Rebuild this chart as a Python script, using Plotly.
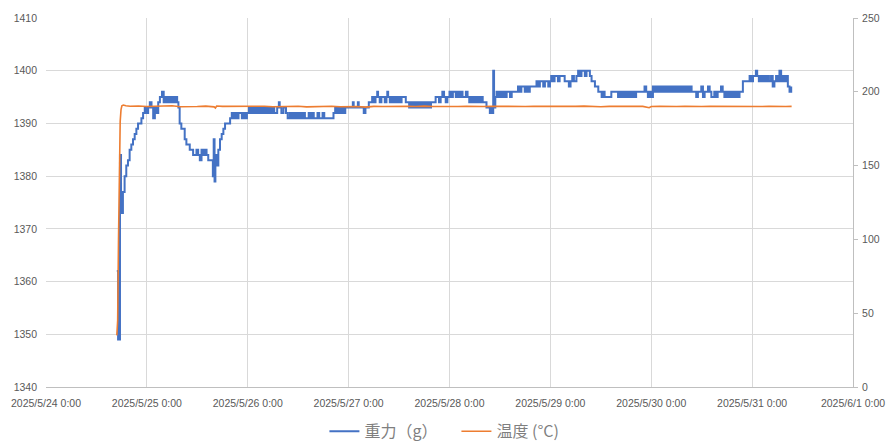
import pandas as pd
import plotly.graph_objects as go

# Weight (g): hours since 2025/5/24 0:00 and readings
weight_hours = [
    16.85, 17.15, 17.6, 17.85, 18.3, 18.7, 19.1, 19.5, 19.9, 20.3, 20.7, 21.1, 21.5, 21.9, 22.3, 22.7,
    23.1, 23.5, 23.9, 24.3, 24.7, 25.1, 25.5, 25.9, 26.3, 26.7, 27.1, 27.6, 28.0, 28.4, 28.8, 29.2,
    29.6, 30.0, 30.4, 30.8, 31.2, 31.5, 31.8, 32.2, 32.6, 33.0, 33.4, 33.8, 34.2, 34.6, 35.0, 35.4,
    35.8, 36.2, 36.6, 37.0, 37.4, 37.8, 38.2, 38.6, 39.0, 39.4, 39.7, 39.9, 40.1, 40.3, 40.6, 41.0,
    41.4, 41.8, 42.2, 42.6, 43.0, 43.8,
    44.2, 44.6, 45.0, 45.4, 45.8, 46.2, 46.6, 47.0, 47.4, 47.8,
    48.3, 48.7, 49.1, 49.5, 49.9, 50.3, 50.7, 51.1, 51.5, 51.9, 52.3, 52.7, 53.1, 53.5, 53.9, 54.3,
    55.0, 55.4, 55.6, 56.0, 56.5, 57.1,
    57.5, 58.0, 58.4, 58.8, 59.2, 59.6, 60.0, 60.4, 60.8, 61.2, 61.6, 62.0, 62.5, 62.9, 63.3, 63.7,
    64.1, 64.6, 65.0, 65.4, 65.8, 66.2, 66.6, 67.0, 67.4,
    68.4, 68.8, 69.2, 69.6, 70.0, 70.4, 70.8, 71.2, 71.6,
    72.0, 72.6, 73.0, 73.2, 73.8, 74.2, 74.4, 75.0, 75.6, 76.0, 76.4, 76.8, 77.2, 77.6,
    78.0, 78.4, 78.8, 79.0, 79.4, 79.8, 80.2, 80.6, 81.0, 81.2, 81.4, 81.8, 82.2, 82.6, 83.0, 83.4,
    83.8, 84.2, 84.6, 85.0, 85.6,
    86.0, 86.4, 86.8, 87.2, 87.6, 88.0, 88.4, 88.8, 89.2, 89.6, 90.0, 90.4, 90.8, 91.2, 91.6, 92.0, 92.7,
    93.1, 93.5, 93.9, 94.3, 94.7, 95.1, 95.5, 96.0, 96.4, 96.8, 97.1, 97.5, 97.9, 98.3, 98.7, 99.1,
    99.5, 99.9, 100.3, 100.7, 101.1, 101.5, 101.9, 102.3, 102.7, 103.1, 103.5, 103.9, 104.3, 104.8,
    105.3, 105.6, 106.0, 106.2, 106.4, 106.6, 106.9,
    107.2, 107.6, 108.0, 108.4, 108.8, 109.2, 109.6, 110.0, 110.4, 110.8, 111.2, 111.6, 112.3, 112.7,
    113.1, 113.5, 113.9, 114.3, 114.7, 115.1, 115.5, 115.9, 116.7, 117.1, 117.5, 117.9, 118.3, 118.7,
    119.1, 119.5, 119.9,
    120.2, 120.6, 121.0, 121.4, 121.8, 122.2, 122.6, 123.0, 123.4, 124.0, 124.4, 124.8, 125.2, 125.6,
    126.2, 126.6, 127.0, 127.4, 127.8, 128.2, 128.6, 129.0, 129.4, 129.8, 130.2, 130.6, 131.0, 131.4, 131.8,
    132.2, 132.6, 132.9, 133.3, 133.7, 134.1, 134.5, 134.9, 135.3, 135.7, 136.1, 136.5, 136.9, 137.3,
    137.7, 138.1, 138.5, 138.9, 139.3, 139.7, 140.1, 140.4, 140.8, 141.2, 141.6, 142.0, 142.4, 142.8,
    143.2, 143.6, 144.0, 144.4,
    144.8, 145.2, 145.6, 146.0, 146.4, 146.8, 147.2, 147.6, 148.0, 148.4, 148.8, 149.2, 149.6, 150.0,
    150.4, 150.8, 151.2, 151.6, 152.0, 152.4, 152.8, 153.2, 153.6, 154.0, 154.7,
    155.1, 155.5, 155.9, 156.3, 156.7, 157.1, 157.5, 157.9, 158.3, 158.6, 159.0, 159.4, 159.8, 160.2,
    160.6, 161.0, 161.4, 161.8, 162.2, 162.6, 163.0, 163.4, 163.8, 164.2, 164.6, 165.0, 165.4, 165.8,
    166.2, 166.6, 167.0, 167.4, 167.8, 168.2, 168.5, 168.9, 169.2, 169.6, 170.0, 170.4, 170.8, 171.2,
    171.6, 172.0, 172.5, 172.9, 173.3, 173.7, 174.1, 174.5, 174.9, 175.3, 175.7, 176.1, 176.5, 176.9, 177.3,
]
weight_g = [
    1362, 1349, 1384, 1373, 1377, 1380, 1382, 1383, 1385, 1386, 1387, 1388, 1389, 1390, 1390, 1391,
    1392, 1393, 1392, 1393, 1394, 1393, 1391, 1393, 1392, 1394, 1395, 1396, 1394, 1395, 1394, 1395,
    1394, 1395, 1394, 1395, 1394, 1393, 1390, 1389, 1389, 1387, 1386, 1386, 1385, 1385, 1384, 1384,
    1385, 1384, 1383, 1385, 1384, 1385, 1384, 1383, 1383, 1383, 1380, 1387, 1379, 1384, 1382, 1385,
    1387, 1388, 1389, 1390, 1390, 1391,
    1392, 1391, 1392, 1391, 1392, 1392, 1391, 1392, 1391, 1392,
    1393, 1392, 1393, 1392, 1393, 1392, 1393, 1392, 1393, 1392, 1393, 1392, 1393, 1392, 1393, 1392,
    1393, 1394, 1393, 1392, 1393, 1392,
    1391, 1392, 1391, 1392, 1391, 1392, 1391, 1392, 1391, 1392, 1391, 1391, 1392, 1391, 1392, 1391,
    1391, 1392, 1391, 1391, 1392, 1391, 1391, 1391, 1391,
    1392, 1393, 1392, 1393, 1392, 1393, 1392, 1393, 1393,
    1393, 1393, 1394, 1393, 1393, 1394, 1393, 1393, 1392, 1393, 1393, 1394, 1394, 1395,
    1394, 1395, 1396, 1395, 1394, 1395, 1395, 1394, 1395, 1396, 1395, 1394, 1395, 1394, 1395, 1394,
    1395, 1394, 1395, 1395, 1394,
    1394, 1393, 1394, 1393, 1394, 1393, 1394, 1393, 1394, 1393, 1394, 1393, 1394, 1393, 1394, 1394, 1395,
    1395, 1394, 1395, 1396, 1395, 1394, 1395, 1396, 1395, 1396, 1396, 1395, 1396, 1395, 1396, 1395,
    1395, 1396, 1395, 1394, 1395, 1394, 1395, 1394, 1395, 1394, 1395, 1394, 1394, 1393,
    1393, 1392, 1393, 1392, 1400, 1393, 1395,
    1396, 1395, 1396, 1395, 1396, 1395, 1396, 1396, 1395, 1396, 1396, 1396, 1397, 1396,
    1397, 1397, 1396, 1397, 1396, 1397, 1397, 1397, 1398, 1397, 1398, 1398, 1397, 1398,
    1398, 1397, 1398,
    1399, 1398, 1399, 1399, 1398, 1399, 1399, 1399, 1398, 1398, 1397, 1398, 1399, 1398,
    1399, 1400, 1399, 1400, 1400, 1399, 1400, 1400, 1399, 1398, 1398, 1397, 1397, 1396, 1396,
    1395, 1396, 1395, 1395, 1395, 1395, 1396, 1396, 1396, 1396, 1395, 1396, 1395, 1396,
    1395, 1396, 1395, 1396, 1395, 1396, 1395, 1396, 1396, 1396, 1396, 1396, 1397, 1396,
    1395, 1396, 1395, 1397,
    1396, 1397, 1396, 1397, 1396, 1397, 1396, 1397, 1396, 1397, 1396, 1397, 1396, 1397,
    1396, 1397, 1396, 1397, 1396, 1397, 1396, 1397, 1396, 1396, 1395,
    1396, 1396, 1397, 1395, 1396, 1396, 1397, 1396, 1395, 1395, 1396, 1395, 1396, 1396,
    1397, 1396, 1395, 1396, 1395, 1396, 1395, 1396, 1395, 1396, 1395, 1396, 1396, 1398,
    1398, 1398, 1398, 1399, 1398, 1399, 1399, 1400, 1399, 1398, 1399, 1398, 1399, 1398,
    1399, 1398, 1399, 1397, 1398, 1399, 1398, 1400, 1398, 1399, 1398, 1399, 1397, 1396, 1397,
]

# Temperature (°C): hours since 2025/5/24 0:00 and readings
temp_hours = [
    16.85, 17.05, 17.25, 17.45, 17.65, 17.85, 18.05, 18.4, 19.0, 20.0, 22.0, 24.0, 26.0, 28.0, 30.0,
    32.0, 34.0, 36.0, 38.0, 40.0, 40.3, 40.6, 42.0, 44.0, 46.0, 48.0, 50.0, 52.0, 54.0, 56.0, 58.0,
    60.0, 62.0, 64.0, 66.0, 68.0, 70.0, 72.0, 74.0, 76.0, 78.0, 80.0, 82.0, 84.0, 86.0, 88.0, 90.0,
    92.0, 94.0, 96.0, 98.0, 100.0, 102.0, 104.0, 106.0, 108.0, 110.0, 112.0, 114.0, 116.0, 118.0,
    120.0, 122.0, 124.0, 126.0, 128.0, 130.0, 132.0, 134.0, 136.0, 138.0, 140.0, 142.0, 143.5, 144.0,
    146.0, 148.0, 150.0, 152.0, 154.0, 156.0, 158.0, 160.0, 162.0, 164.0, 166.0, 168.0, 170.0, 172.0,
    174.0, 176.0, 177.4,
]
temp_c = [
    35, 45, 100, 150, 180, 188, 190.5, 191, 190.5, 190.2, 190.4, 190.0, 190.3, 190.1, 190.5,
    189.9, 190.2, 190.0, 190.3, 189.8, 189.0, 190.4, 190.1, 190.2, 189.9, 190.3, 190.0, 190.2, 189.9, 190.1, 190.0,
    190.2, 189.8, 190.1, 190.0, 190.2, 189.9, 190.1, 190.0, 189.6, 190.1, 190.0, 190.2, 189.9, 190.1, 190.0, 190.3,
    190.0, 189.9, 190.2, 190.0, 190.1, 189.8, 190.0, 190.2, 190.1, 189.9, 190.1, 190.0, 190.2, 190.1,
    190.0, 190.2, 189.9, 190.1, 190.3, 190.0, 189.9, 190.1, 190.0, 190.2, 190.0, 190.1, 189.2, 190.0,
    190.1, 189.9, 190.0, 190.2, 189.9, 190.0, 190.1, 190.0, 189.9, 190.0, 190.2, 189.9, 190.0, 190.1,
    189.9, 190.0, 190.1,
]

start = pd.Timestamp("2025-05-24 00:00")
weight_t = start + pd.to_timedelta(weight_hours, unit="h")
temp_t = start + pd.to_timedelta(temp_hours, unit="h")

GRAY = "#595959"
GRID = "#D9D9D9"

fig = go.Figure()
fig.add_trace(go.Scatter(
    x=weight_t, y=weight_g, mode="lines", name="重力（g）",
    line=dict(color="#4472C4", width=2, shape="hv"),
))
fig.add_trace(go.Scatter(
    x=temp_t, y=temp_c, mode="lines", name="温度 (°C)", yaxis="y2",
    line=dict(color="#ED7D31", width=1.6),
))

# The page body carries an 8px default margin, so the figure is sized to fit the window.
fig.update_layout(
    width=888, height=433,
    margin=dict(l=38, r=43, t=10, b=54, autoexpand=False),
    paper_bgcolor="white", plot_bgcolor="white",
    font=dict(family="Liberation Sans, Noto Sans CJK JP", size=10.5, color=GRAY),
    showlegend=True,
    legend=dict(
        orientation="h", x=0.345, xanchor="left", y=-0.12, yanchor="middle",
        font=dict(family="Noto Sans CJK JP", size=16, color="#7F7F7F"),
        itemwidth=30, entrywidth=87, entrywidthmode="pixels",
    ),
    xaxis=dict(
        type="date", automargin=False,
        range=["2025-05-24 00:00", "2025-06-01 00:00"],
        dtick=86400000, tick0="2025-05-24 00:00",
        tickformat="%Y/%-m/%-d %-H:%M",
        showgrid=True, gridcolor=GRID, gridwidth=1,
        showline=True, linecolor="#BFBFBF", linewidth=1,
        ticks="outside", ticklen=6, tickcolor="rgba(0,0,0,0)",
        zeroline=False,
    ),
    yaxis=dict(
        automargin=False,
        range=[1340, 1410], dtick=10, tick0=1340,
        showgrid=True, gridcolor=GRID, gridwidth=1,
        showline=False, zeroline=False,
        ticklabelstandoff=8,
    ),
    yaxis2=dict(
        automargin=False,
        range=[0, 250], dtick=50, tick0=0,
        overlaying="y", side="right",
        showgrid=False, zeroline=False,
        showline=True, linecolor="#BFBFBF", linewidth=1,
        ticks="outside", ticklen=4, tickcolor="#BFBFBF",
        ticklabelstandoff=2,
    ),
)

fig.write_html("out.html")
